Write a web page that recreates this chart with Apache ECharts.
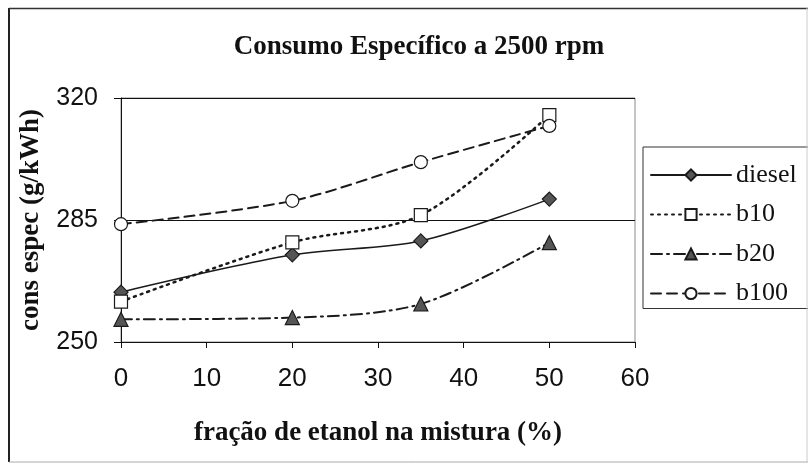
<!DOCTYPE html>
<html>
<head>
<meta charset="utf-8">
<script src="https://cdn.jsdelivr.net/npm/echarts@6/dist/echarts.min.js"></script>
<style>
  html, body { margin: 0; padding: 0; background: #fff; }
  #chart { width: 808px; height: 465px; }
</style>
</head>
<body>
<div id="chart"></div>
<script>
// Ethanol fraction in the blend (%)
const fracoes = [0, 20, 35, 50];
// Specific consumption (g/kWh) per fuel base
const diesel = [264.3, 275.0, 279.0, 291.0];
const b10 = [261.6, 278.6, 286.4, 315.1];
const b20 = [256.5, 257.0, 260.9, 278.5];
const b100 = [283.8, 290.5, 301.6, 312.0];
// Axis ticks
const xTicks = [0, 10, 20, 30, 40, 50, 60];
const yTicks = [250, 285, 320];

const serif = '"Liberation Serif", "Times New Roman", serif';
const sans = '"Liberation Sans", Arial, sans-serif';

function pares(vals) {
  return fracoes.map((x, i) => [x, vals[i]]);
}

const chart = echarts.init(document.getElementById('chart'), null, { renderer: 'canvas' });

function serie(name, vals, lineType, lineWidth, symbol, symbolSize, fill) {
  return {
    name: name,
    type: 'line',
    data: pares(vals),
    smooth: 0.3,
    symbol: symbol,
    symbolSize: symbolSize,
    showSymbol: true,
    lineStyle: { color: '#1a1a1a', width: lineWidth, type: lineType, cap: 'round' },
    itemStyle: { color: fill, borderColor: '#1a1a1a', borderWidth: 1.2 },
    emphasis: { disabled: true },
    animation: false
  };
}

// Frame around the whole chart
function borda(x1, y1, x2, y2, color, width) {
  return {
    type: 'line',
    shape: { x1: x1, y1: y1, x2: x2, y2: y2 },
    style: { stroke: color, lineWidth: width },
    silent: true,
    z: 100
  };
}

chart.setOption({
  backgroundColor: '#fff',
  animation: false,
  title: {
    text: 'Consumo Específico a 2500 rpm',
    left: 414,
    top: 29,
    textAlign: 'center',
    textStyle: { fontFamily: serif, fontSize: 27, fontWeight: 'bold', color: '#111' }
  },
  grid: {
    left: 121, right: 173, top: 98, bottom: 123,
    show: true, borderColor: '#8a8a8a', borderWidth: 1, backgroundColor: 'transparent'
  },
  legend: {
    orient: 'vertical',
    left: 643,
    top: 147,
    padding: [15, 30, 2, 7],
    itemWidth: 80,
    itemHeight: 14,
    itemGap: 13.5,
    borderColor: '#333',
    borderWidth: 1,
    backgroundColor: '#fff',
    textStyle: { fontFamily: serif, fontSize: 26, color: '#111', padding: [0, 0, 0, 0] },
    data: ['diesel', 'b10', 'b20', 'b100']
  },
  xAxis: {
    type: 'value',
    min: xTicks[0],
    max: xTicks[xTicks.length - 1],
    interval: 10,
    name: 'fração de etanol na mistura (%)',
    nameLocation: 'middle',
    nameGap: 78,
    nameTextStyle: { fontFamily: serif, fontSize: 27, fontWeight: 'bold', color: '#111' },
    axisLine: { show: true, lineStyle: { color: '#111', width: 1 } },
    axisTick: { show: true, length: 6, lineStyle: { color: '#111' } },
    axisLabel: { fontFamily: sans, fontSize: 26, color: '#111', margin: 24 },
    splitLine: { show: false }
  },
  yAxis: {
    type: 'value',
    min: yTicks[0],
    max: yTicks[yTicks.length - 1],
    interval: 35,
    name: 'cons espec (g/kWh)',
    nameLocation: 'middle',
    nameGap: 76,
    nameTextStyle: { fontFamily: serif, fontSize: 27, fontWeight: 'bold', color: '#111' },
    axisLine: { show: true, lineStyle: { color: '#111', width: 1 } },
    axisTick: { show: true, length: 7, lineStyle: { color: '#111' } },
    axisLabel: { fontFamily: sans, fontSize: 25, color: '#111', margin: 23 },
    splitLine: { show: true, lineStyle: { color: '#111', width: 1 } }
  },
  graphic: [
    borda(9, 8, 9, 462, '#222', 2),
    borda(9, 8.5, 808, 8.5, '#333', 1.5),
    borda(9, 462, 808, 462, '#aaa', 1),
    borda(807, 8, 807, 462, '#ccc', 1)
  ],
  series: [
    serie('diesel', diesel, 'solid', 1.5, 'diamond', 14, '#555'),
    serie('b10', b10, [2, 5], 2.5, 'rect', 13, '#fff'),
    serie('b20', b20, [11, 5, 2, 5], 2, 'triangle', 14, '#555'),
    serie('b100', b100, [10, 6], 2, 'circle', 13, '#fff')
  ]
});
</script>
</body>
</html>
